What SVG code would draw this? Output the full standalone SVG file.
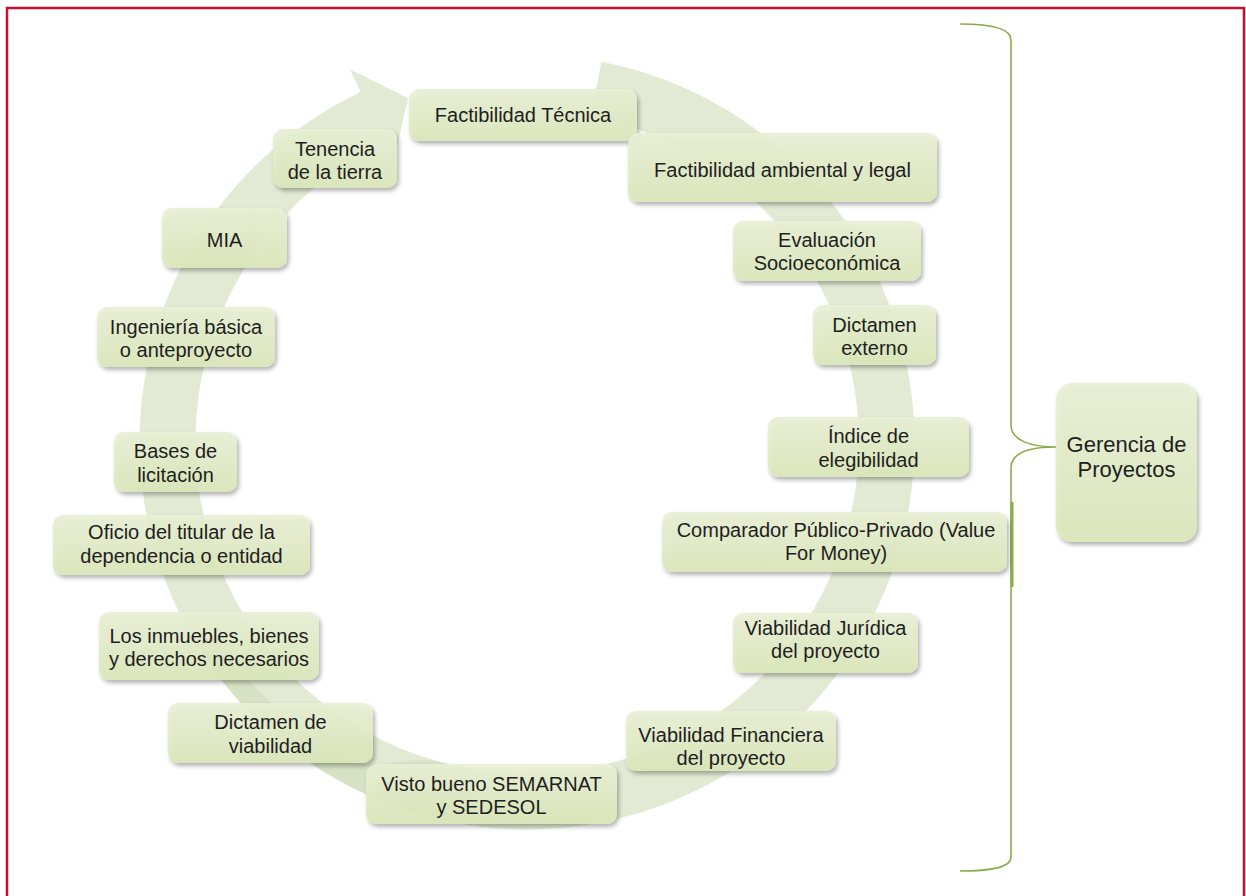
<svg xmlns="http://www.w3.org/2000/svg" width="1246" height="896" viewBox="0 0 1246 896">
<style>
.box{fill:url(#boxg);fill-opacity:0.92;filter:url(#sh)}
.t{font-family:"Liberation Sans",Arial,sans-serif;font-size:20px;fill:#1e1e1e;text-anchor:middle}
.big{font-size:22px}
.band{fill:#cfdcb8;fill-opacity:0.6;stroke:#ffffff;stroke-opacity:0.8;stroke-width:1.2}
.brace{fill:none;stroke:#8aac4e;stroke-width:1.6}
</style>
<defs>
<linearGradient id="boxg" x1="0" y1="0" x2="0" y2="1">
<stop offset="0" stop-color="#e9f0d5"/>
<stop offset="1" stop-color="#dbe7ba"/>
</linearGradient>
<filter id="sh" x="-10%" y="-20%" width="125%" height="150%">
<feDropShadow dx="2" dy="3" stdDeviation="2.2" flood-color="#000" flood-opacity="0.32"/>
</filter>
</defs>
<rect x="7" y="8" width="1237" height="900" fill="#fff" stroke="#c8102e" stroke-width="2.5"/>
<g id="connectors">
<path id="arrow-right" class="band" d="M601.0,61.1 A388,388 0 1 1 191.0,636.0 L210.9,624.5 A365,365 0 0 0 344.5,758.1 C370.5,773.1 412.3,753.9 441.3,761.7 A331,331 0 1 0 590.2,117.1 Z"/>
<path id="arrow-left" class="band" d="M473.0,826.2 A388,388 0 0 1 360.0,91.8 L348.8,68.3 L408.5,97.8 L394.0,163.1 L384.5,143.2 A331,331 0 0 0 480.9,769.8 Z"/>
<path id="brace" class="brace" d="M960,24 C990,24 1011,28 1011,40 L1011,425 C1011,440 1030,447 1056,447 C1030,447 1011,452 1011,468 L1011,857 C1011,868 990,871 960,871"/>
<line x1="1012" y1="502" x2="1012" y2="587" stroke="#8aac4e" stroke-width="3"/>
</g>
<g id="n-fact-tecnica"><rect class="box" x="409" y="89" width="228" height="52" rx="10"/><text class="t" x="523" y="122">Factibilidad Técnica</text></g>
<g id="n-tenencia"><rect class="box" x="273" y="129" width="124" height="59" rx="10"/><text class="t" x="335" y="156">Tenencia<tspan x="335" dy="23">de la tierra</tspan></text></g>
<g id="n-fact-ambiental"><rect class="box" x="628" y="133" width="309" height="69" rx="10"/><text class="t" x="782.5" y="177">Factibilidad ambiental y legal</text></g>
<g id="n-evaluacion"><rect class="box" x="733" y="221" width="188" height="60" rx="10"/><text class="t" x="827" y="247">Evaluación<tspan x="827" dy="23">Socioeconómica</tspan></text></g>
<g id="n-dictamen-externo"><rect class="box" x="813" y="305" width="123" height="60" rx="10"/><text class="t" x="874.5" y="332">Dictamen<tspan x="874.5" dy="23">externo</tspan></text></g>
<g id="n-indice"><rect class="box" x="768" y="417" width="201" height="60" rx="10"/><text class="t" x="868.5" y="443">Índice de<tspan x="868.5" dy="24">elegibilidad</tspan></text></g>
<g id="n-comparador"><rect class="box" x="662" y="512" width="345" height="60" rx="10"/><text class="t" x="836" y="537">Comparador Público-Privado (Value<tspan x="836" dy="23">For Money)</tspan></text></g>
<g id="n-viab-juridica"><rect class="box" x="733" y="613" width="185" height="60" rx="10"/><text class="t" x="825.5" y="635">Viabilidad Jurídica<tspan x="825.5" dy="23">del proyecto</tspan></text></g>
<g id="n-viab-financiera"><rect class="box" x="626" y="711" width="210" height="60" rx="10"/><text class="t" x="731" y="742">Viabilidad Financiera<tspan x="731" dy="23">del proyecto</tspan></text></g>
<g id="n-visto-bueno"><rect class="box" x="366" y="764" width="251" height="60" rx="10"/><text class="t" x="491.5" y="791">Visto bueno SEMARNAT<tspan x="491.5" dy="23">y SEDESOL</tspan></text></g>
<g id="n-dictamen-viabilidad"><rect class="box" x="168" y="703" width="205" height="60" rx="10"/><text class="t" x="270.5" y="729">Dictamen de<tspan x="270.5" dy="24">viabilidad</tspan></text></g>
<g id="n-inmuebles"><rect class="box" x="99" y="612" width="220" height="68" rx="10"/><text class="t" x="209" y="643">Los inmuebles, bienes<tspan x="209" dy="23">y derechos necesarios</tspan></text></g>
<g id="n-oficio"><rect class="box" x="53" y="515" width="257" height="60" rx="10"/><text class="t" x="181.5" y="539">Oficio del titular de la<tspan x="181.5" dy="24">dependencia o entidad</tspan></text></g>
<g id="n-bases"><rect class="box" x="114" y="432" width="123" height="60" rx="10"/><text class="t" x="175.5" y="458">Bases de<tspan x="175.5" dy="24">licitación</tspan></text></g>
<g id="n-ingenieria"><rect class="box" x="97" y="307" width="178" height="60" rx="10"/><text class="t" x="186" y="334">Ingeniería básica<tspan x="186" dy="23">o anteproyecto</tspan></text></g>
<g id="n-mia"><rect class="box" x="162" y="208" width="125" height="60" rx="10"/><text class="t" x="224.5" y="247">MIA</text></g>
<g id="n-gerencia"><rect class="box" x="1056" y="383" width="141" height="159" rx="16"/><text class="t big" x="1126.5" y="452">Gerencia de<tspan x="1126.5" dy="25">Proyectos</tspan></text></g>
</svg>
